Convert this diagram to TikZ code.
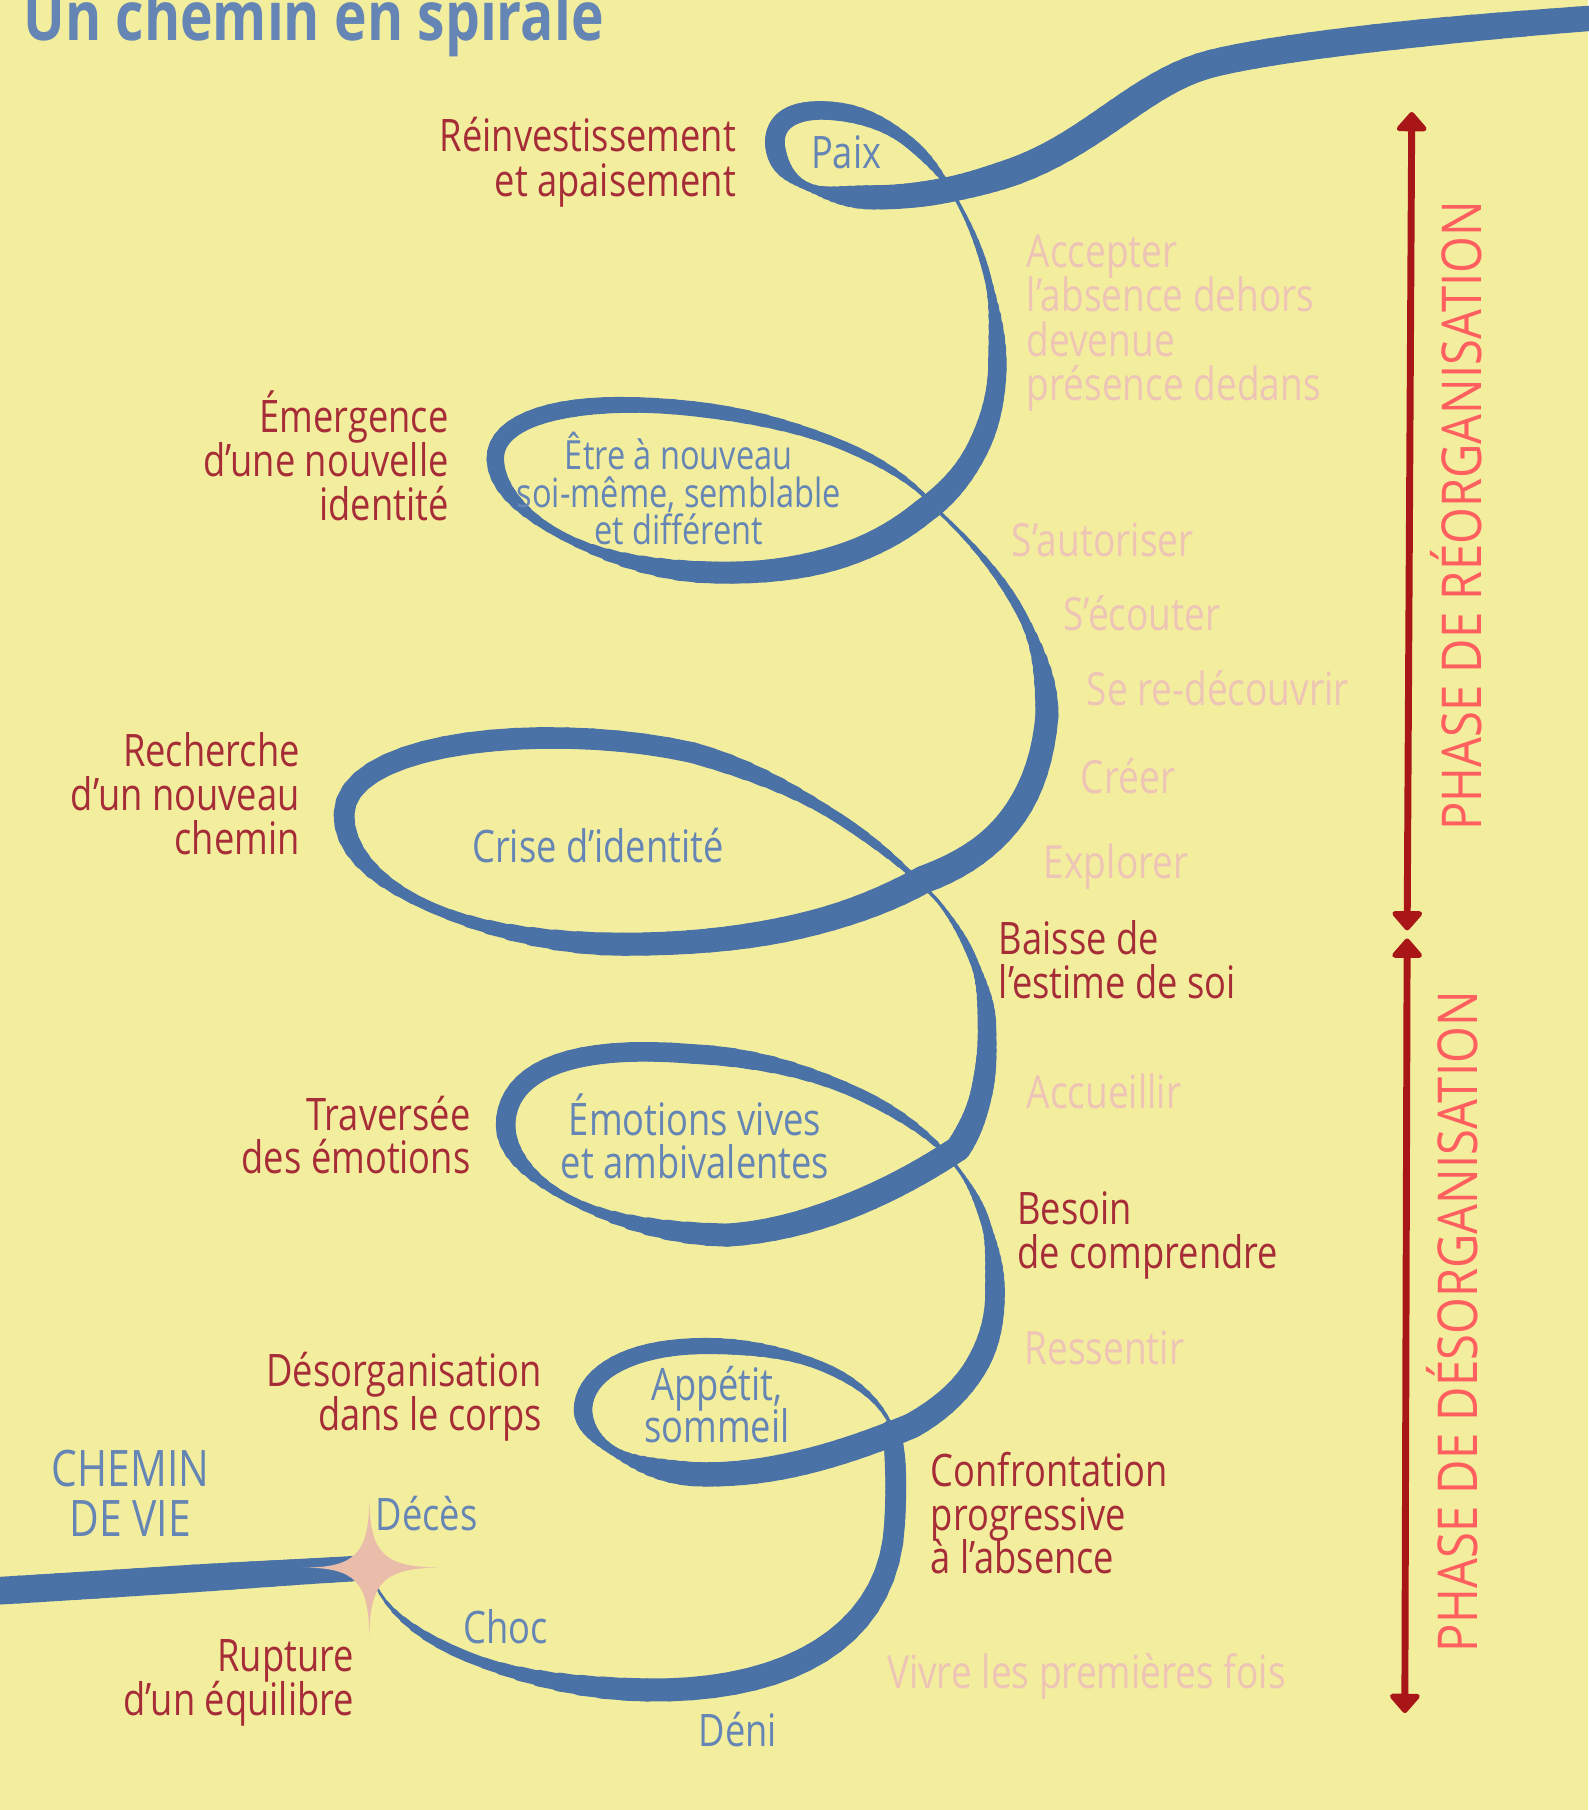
\documentclass[tikz,border=0pt]{standalone}
\usepackage{fontspec}
\setmainfont{Open Sans}[FakeStretch=0.81]
\newfontfamily\phasefont{Open Sans}[FakeStretch=0.86]
\usetikzlibrary{arrows.meta,calc}
\definecolor{bgc}{HTML}{F3EE9E}
\definecolor{ribc}{HTML}{4A72A6}
\definecolor{bluet}{HTML}{6585B5}
\definecolor{redc}{HTML}{A62C37}
\definecolor{pinkc}{HTML}{EDC4B5}
\definecolor{phasec}{HTML}{FF5F5F}
\definecolor{arrowc}{HTML}{A81618}
\definecolor{starc}{HTML}{E9BDAA}
\newcommand\ribN{18}
% ribbon piece: P0, P1, P2, P3, width start, width middle, width end (in px)
\newcommand\ribseg[7]{%
  \foreach \k in {1,...,\ribN}{%
    \pgfmathsetmacro\ta{(\k-1)/\ribN}%
    \pgfmathsetmacro\tb{\k/\ribN}%
    \pgfmathsetmacro\tm{(\ta+\tb)/2}%
    \pgfmathsetmacro\ww{\tm<0.5 ? (#5+(#6-#5)*(1-cos(360*\tm))/2) : (#6+(#7-#6)*(1-cos(360*\tm-180))/2)}%
    \path (#1) .. controls (#2) and (#3) .. (#4) coordinate[pos=\ta] (ra) coordinate[pos=\tb] (rb);
    \draw[ribbon, line width=\ww*0.5pt] (ra) -- (rb);
  }%
}
\tikzset{
  ribbon/.style={draw=ribc, line cap=round},
  lbl/.style={font=\fontsize{19.4pt}{19.4pt}\selectfont, inner sep=0pt},
  redlbl/.style={lbl, text=redc},
  pinklbl/.style={inner sep=0pt, text=pinkc, font=\fontsize{19.8pt}{19.8pt}\selectfont},
  bluelbl/.style={lbl, text=bluet},
  smallblue/.style={inner sep=0pt, text=bluet, font=\fontsize{17.4pt}{17.4pt}\selectfont},
  chemlbl/.style={inner sep=0pt, text=bluet, font=\fontsize{21.8pt}{21.8pt}\selectfont},
  phaselbl/.style={inner sep=0pt, text=phasec, font=\phasefont\fontsize{23.8pt}{23.8pt}\selectfont, rotate=90, anchor=base},
  titlelbl/.style={inner sep=0pt, text=bluet, font=\fontsize{29.5pt}{29.5pt}\selectfont\bfseries},
  phasearrow/.style={draw=arrowc, line width=3pt,
    {Triangle[width=15pt,length=9pt,round]}-{Triangle[width=15pt,length=9pt,round]}}
}
\begin{document}
\begin{tikzpicture}[x=0.5pt,y=-0.5pt]
\useasboundingbox (0,0) rectangle (1376,1568);
\fill[bgc] (0,0) rectangle (1376,1568);

% ---- ribbon ----
% left life line
\ribseg{0,1378}{100,1372}{200,1365}{305,1359}{24}{24}{22}
% big bottom loop
\ribseg{325,1372}{345,1420}{440,1462}{560,1464}{2}{9}{20}
\ribseg{560,1464}{680,1466}{770,1420}{775,1320}{20}{21}{18}
\ribseg{775,1320}{777,1285}{776,1258}{772,1238}{18}{18}{16}
% small loop (appetit)
\ribseg{772,1235}{752,1190}{685,1166}{612,1166}{3}{8}{14}
\ribseg{612,1166}{545,1166}{505,1190}{505,1222}{14}{15}{16}
\ribseg{505,1222}{506,1245}{540,1272}{600,1277}{16}{8}{21}
\ribseg{600,1277}{665,1280}{730,1260}{790,1235}{21}{22}{22}
\ribseg{790,1235}{838,1208}{862,1170}{862,1120}{22}{20}{17}
\ribseg{862,1120}{862,1072}{850,1040}{831,1014}{17}{8}{3}
% emotions loop
\ribseg{831,1014}{800,968}{710,918}{600,913}{3}{10}{17}
\ribseg{600,913}{480,903}{438,935}{438,975}{17}{17}{17}
\ribseg{438,975}{438,1020}{520,1068}{630,1070}{17}{7}{20}
\ribseg{630,1070}{710,1065}{785,1025}{830,995}{20}{22}{22}
\ribseg{830,995}{850,965}{856,930}{855,890}{22}{19}{16}
\ribseg{855,890}{855,850}{838,812}{812,780}{16}{7}{3}
% crise loop
\ribseg{812,780}{770,735}{700,680}{600,652}{3}{9}{18}
\ribseg{600,652}{480,625}{300,640}{298,705}{18}{19}{18}
\ribseg{298,705}{296,770}{420,818}{540,818}{18}{9}{20}
\ribseg{540,818}{660,818}{740,795}{800,762}{20}{22}{24}
\ribseg{800,762}{860,740}{900,700}{907,620}{24}{22}{20}
\ribseg{907,620}{907,560}{880,505}{812,442}{20}{8}{3}
% etre loop
\ribseg{812,442}{780,400}{700,365}{600,354}{3}{8}{13}
\ribseg{600,354}{500,343}{428,360}{429,398}{13}{15}{15}
\ribseg{429,398}{430,445}{520,495}{620,496}{15}{7}{19}
\ribseg{620,496}{710,498}{765,472}{800,443}{19}{21}{22}
\ribseg{800,443}{840,415}{862,370}{864,320}{22}{19}{16}
\ribseg{864,320}{865,260}{852,215}{828,172}{16}{6}{3}
% paix loop and exit
\ribseg{828,172}{810,140}{775,100}{720,96}{3}{10}{16}
\ribseg{720,96}{680,93}{668,110}{672,130}{16}{17}{17}
\ribseg{672,130}{678,160}{712,171}{757,171}{17}{7}{21}
\ribseg{757,171}{800,171}{840,162}{880,148}{21}{22}{24}
\ribseg{880,148}{950,122}{990,70}{1050,55}{24}{25}{24}
\ribseg{1050,55}{1110,40}{1250,25}{1390,15}{24}{24}{22}

% ---- star (death) ----
\coordinate (st) at (320,1358);
\fill[starc] ($(st)+(0,-62)$) .. controls ($(st)+(0,-12)$) and ($(st)+(12,0)$) .. ($(st)+(64,0)$)
  .. controls ($(st)+(12,0)$) and ($(st)+(0,12)$) .. ($(st)+(0,63)$)
  .. controls ($(st)+(0,12)$) and ($(st)+(-12,0)$) .. ($(st)+(-58,0)$)
  .. controls ($(st)+(-12,0)$) and ($(st)+(0,-12)$) .. cycle;

% ---- phase arrows ----
\coordinate (a1t) at (1223,97);
\coordinate (a1b) at (1219,806);
\coordinate (a2t) at (1219,813);
\coordinate (a2b) at (1217,1484);
\draw[phasearrow] (a1t) -- (a1b);
\draw[phasearrow] (a2t) -- (a2b);
\node[phaselbl] (ph1) at (1283,447) {PHASE DE RÉORGANISATION};
\node[phaselbl] (ph2) at (1280,1145) {PHASE DE DÉSORGANISATION};

% ---- title ----
\node[titlelbl, anchor=base west] (title) at (20,35) {Un chemin en spirale};

% ---- red labels, left ----
\node[redlbl, anchor=base east] (r1a) at (638,131) {Réinvestissement};
\node[redlbl, anchor=base east] (r1b) at (638,170) {et apaisement};
\node[redlbl, anchor=base east] (r2a) at (389,375) {Émergence};
\node[redlbl, anchor=base east] (r2b) at (389,413) {d’une nouvelle};
\node[redlbl, anchor=base east] (r2c) at (389,451) {identité};
\node[redlbl, anchor=base east] (r3a) at (260,664) {Recherche};
\node[redlbl, anchor=base east] (r3b) at (260,702) {d’un nouveau};
\node[redlbl, anchor=base east] (r3c) at (260,740) {chemin};
\node[redlbl, anchor=base east] (r4a) at (408,979) {Traversée};
\node[redlbl, anchor=base east] (r4b) at (408,1017) {des émotions};
\node[redlbl, anchor=base east] (r5a) at (470,1201) {Désorganisation};
\node[redlbl, anchor=base east] (r5b) at (470,1239) {dans le corps};
\node[redlbl, anchor=base east] (r6a) at (307,1448) {Rupture};
\node[redlbl, anchor=base east] (r6b) at (307,1486) {d’un équilibre};
% ---- red labels, right ----
\node[redlbl, anchor=base west] (r7a) at (865,827) {Baisse de};
\node[redlbl, anchor=base west] (r7b) at (865,865) {l’estime de soi};
\node[redlbl, anchor=base west] (r8a) at (881,1061) {Besoin};
\node[redlbl, anchor=base west] (r8b) at (881,1099) {de comprendre};
\node[redlbl, anchor=base west] (r9a) at (806,1288) {Confrontation};
\node[redlbl, anchor=base west] (r9b) at (806,1326) {progressive};
\node[redlbl, anchor=base west] (r9c) at (806,1363) {à l’absence};

% ---- pink labels ----
\node[pinklbl, anchor=base west] (p1a) at (889,232) {Accepter};
\node[pinklbl, anchor=base west] (p1b) at (889,270) {l’absence dehors};
\node[pinklbl, anchor=base west] (p1c) at (889,309) {devenue};
\node[pinklbl, anchor=base west] (p1d) at (889,347) {présence dedans};
\node[pinklbl, anchor=base west] (p2) at (876,482) {S’autoriser};
\node[pinklbl, anchor=base west] (p3) at (921,546) {S’écouter};
\node[pinklbl, anchor=base west] (p4) at (941,611) {Se re-découvrir};
\node[pinklbl, anchor=base west] (p5) at (936,687) {Créer};
\node[pinklbl, anchor=base west] (p6) at (904,761) {Explorer};
\node[pinklbl, anchor=base west] (p7) at (889,960) {Accueillir};
\node[pinklbl, anchor=base west] (p8) at (887,1182) {Ressentir};
\node[pinklbl, anchor=base west] (p9) at (768,1463) {Vivre les premières fois};

% ---- blue labels ----
\node[bluelbl, anchor=base] (paix) at (733,146) {Paix};
\node[smallblue, anchor=base] (e1) at (588,407) {Être à nouveau};
\node[smallblue, anchor=base] (e2) at (588,440) {soi-même, semblable};
\node[smallblue, anchor=base] (e3) at (588,472) {et différent};
\node[bluelbl, anchor=base] (crise) at (518,747) {Crise d’identité};
\node[bluelbl, anchor=base] (emo1) at (602,984) {Émotions vives};
\node[bluelbl, anchor=base] (emo2) at (602,1021) {et ambivalentes};
\node[bluelbl, anchor=base] (app1) at (621,1213) {Appétit,};
\node[bluelbl, anchor=base] (app2) at (621,1250) {sommeil};
\node[bluelbl, anchor=base west] (deces) at (325,1326) {Décès};
\node[bluelbl, anchor=base west] (choc) at (401,1424) {Choc};
\node[bluelbl, anchor=base west] (deni) at (605,1513) {Déni};
\node[chemlbl, anchor=base] (chem1) at (113,1288) {CHEMIN};
\node[chemlbl, anchor=base] (chem2) at (113,1331) {DE VIE};
\end{tikzpicture}
\end{document}
